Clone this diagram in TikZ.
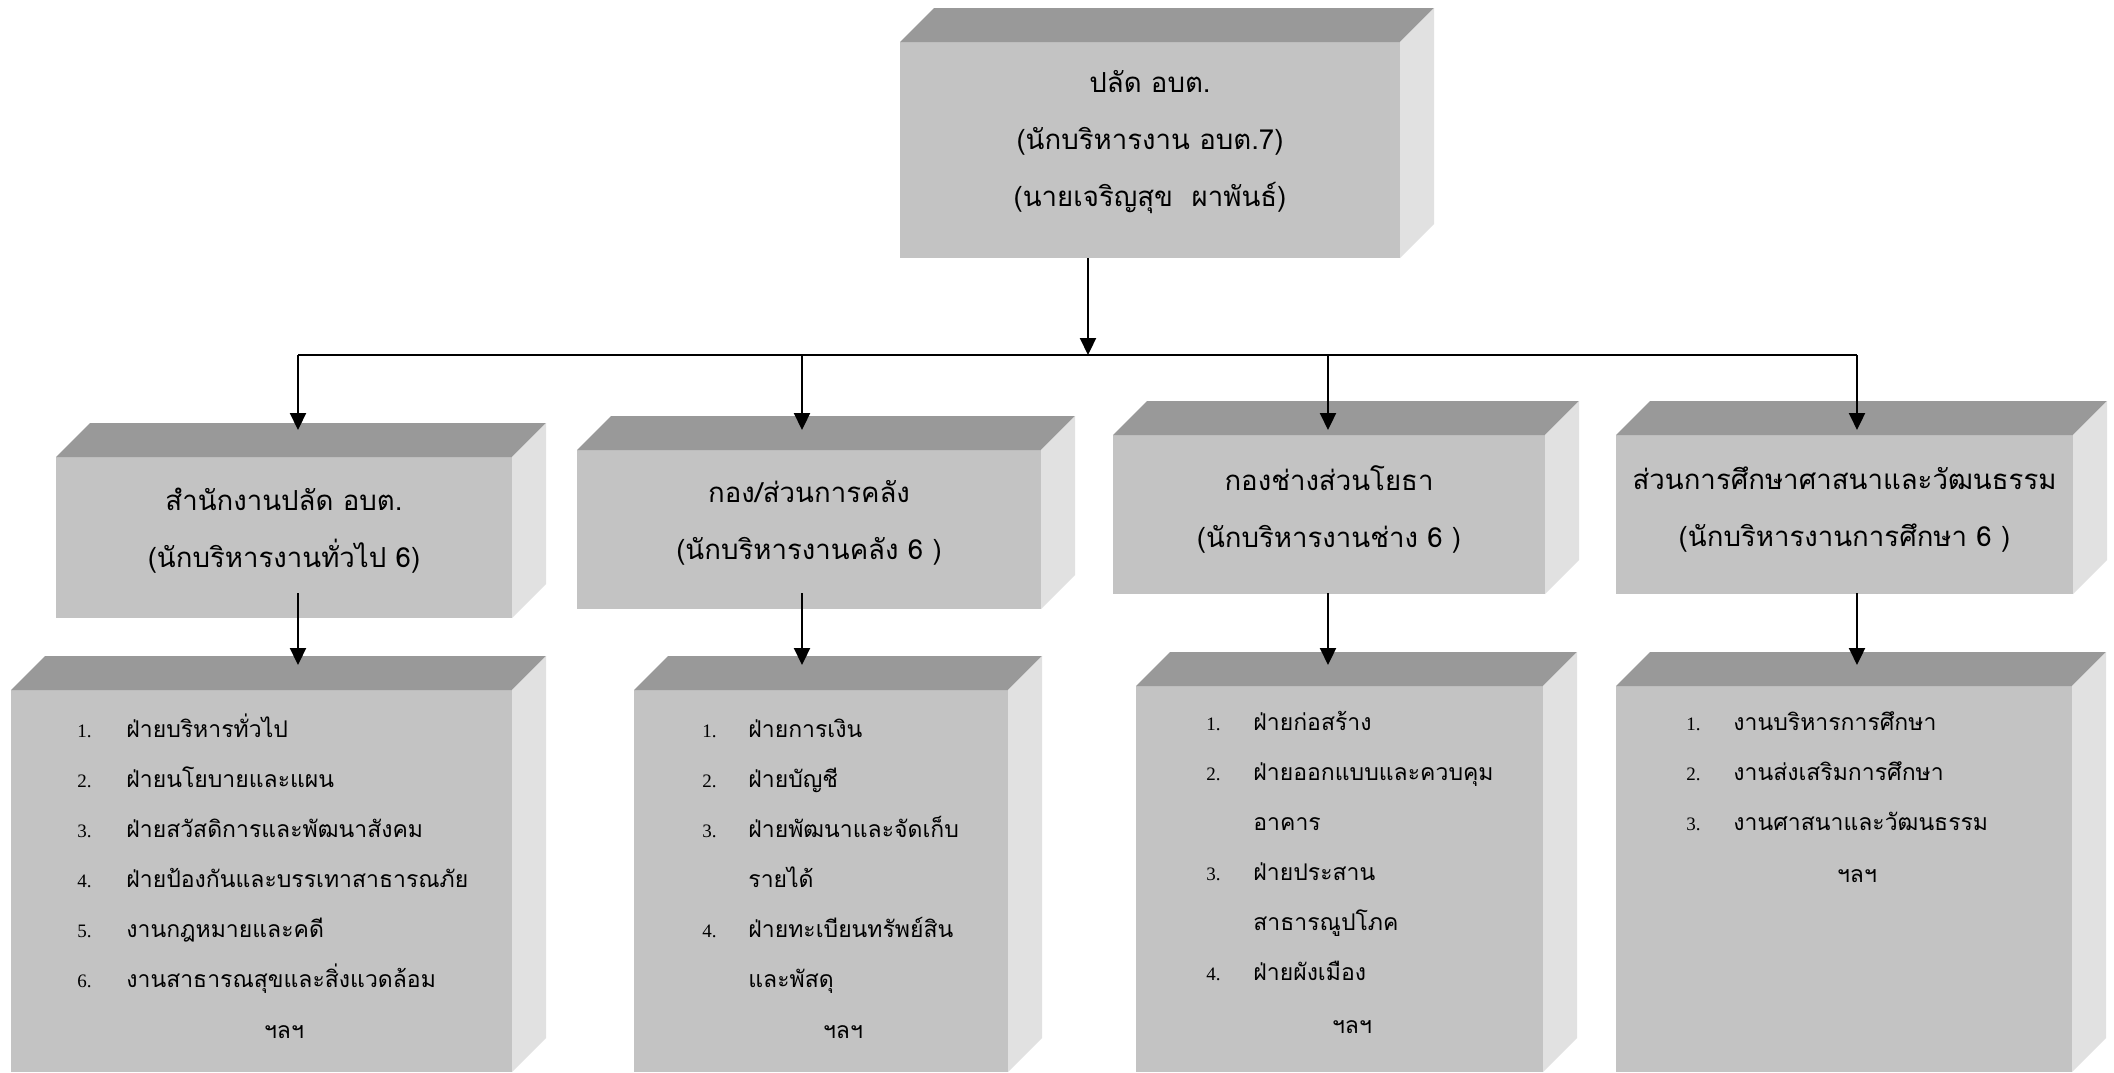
\documentclass[tikz,border=0pt]{standalone}
\usepackage{fontspec}
\usepackage{array}
\setmainfont{Liberation Serif}
\newfontfamily\thaifont[Script=Thai]{Loma}
\newcommand\headfont{\thaifont\fontsize{13.8}{28.5}\selectfont}
\newcommand\listfont{\thaifont\fontsize{11.5}{25}\selectfont}
\newcommand\numfont{\rmfamily\fontsize{9.5}{25}\selectfont}
\usetikzlibrary{arrows.meta}
\definecolor{frontgray}{HTML}{C3C3C3}
\definecolor{topgray}{HTML}{999999}
\definecolor{sidegray}{HTML}{E1E1E1}

\begin{document}
\begin{tikzpicture}[x=0.5pt,y=-0.5pt,
  face/.style={fill=frontgray,inner sep=0pt,outer sep=0pt},
  headtxt/.style={align=center,font=\headfont,inner sep=0pt},
  items/.style={font=\listfont,inner sep=0pt,anchor=base west},
  etc/.style={font=\listfont,inner sep=0pt,anchor=base},
  conn/.style={line width=1.1pt,-{Triangle[length=8.5pt,width=8pt]}},
  bus/.style={line width=0.8pt}]
  \path[fill=white,use as bounding box] (0,0) rectangle (2114,1072);

  % Front faces
  \node[face,minimum width=250pt,minimum height=108pt] (chief) at (1150,150) {};
  \node[face,minimum width=228pt,minimum height=80.5pt] (adm) at (284,537.5) {};
  \node[face,minimum width=232pt,minimum height=79.5pt] (fin) at (809,529.5) {};
  \node[face,minimum width=216pt,minimum height=79.5pt] (eng) at (1329,514.5) {};
  \node[face,minimum width=228.5pt,minimum height=79.5pt] (edu) at (1844.5,514.5) {};
  \node[face,minimum width=250.5pt,minimum height=191pt] (adm-sec) at (261.5,881) {};
  \node[face,minimum width=187pt,minimum height=191pt] (fin-sec) at (821,881) {};
  \node[face,minimum width=203.5pt,minimum height=193pt] (eng-sec) at (1339.5,879) {};
  \node[face,minimum width=228pt,minimum height=193pt] (edu-sec) at (1844,879) {};

  % Top and side faces
  \foreach \b in {chief,adm,fin,eng,edu,adm-sec,fin-sec,eng-sec,edu-sec} {
    \fill[topgray] (\b.north west) -- ++(34,-34)
      -- ([shift={(34,-34)}]\b.north east) -- (\b.north east) -- cycle;
    \fill[sidegray] (\b.north east) -- ++(34,-34)
      -- ([shift={(34,-34)}]\b.south east) -- (\b.south east) -- cycle;
  }

  % Headings
  \node[headtxt] (chief-txt) at ([yshift=4pt]chief.center)
    {ปลัด อบต.\\(นักบริหารงาน อบต.7)\\(นายเจริญสุข~~ผาพันธ์)};
  \node[headtxt] (adm-txt) at ([yshift=3.5pt]adm.center)
    {สำนักงานปลัด อบต.\\(นักบริหารงานทั่วไป 6)};
  \node[headtxt] (fin-txt) at ([yshift=3.5pt]fin.center)
    {กอง/ส่วนการคลัง\\(นักบริหารงานคลัง 6 )};
  \node[headtxt] (eng-txt) at ([yshift=2.5pt]eng.center)
    {กองช่างส่วนโยธา\\(นักบริหารงานช่าง 6 )};
  \node[headtxt] (edu-txt) at ([yshift=2.5pt]edu.center)
    {ส่วนการศึกษาศาสนาและวัฒนธรรม\\(นักบริหารงานการศึกษา 6 )};

  % Section lists
  \node[items] (adm-items) at (77,737) {\begin{tabular}[t]{@{}>{\numfont}p{24.5pt}@{}l@{}}
    1. & ฝ่ายบริหารทั่วไป\\
    2. & ฝ่ายนโยบายและแผน\\
    3. & ฝ่ายสวัสดิการและพัฒนาสังคม\\
    4. & ฝ่ายป้องกันและบรรเทาสาธารณภัย\\
    5. & งานกฎหมายและคดี\\
    6. & งานสาธารณสุขและสิ่งแวดล้อม
  \end{tabular}};
  \node[etc] (adm-etc) at (284,1038) {ฯลฯ};

  \node[items] (fin-items) at (702,737) {\begin{tabular}[t]{@{}>{\numfont}p{23pt}@{}l@{}}
    1. & ฝ่ายการเงิน\\
    2. & ฝ่ายบัญชี\\
    3. & ฝ่ายพัฒนาและจัดเก็บ\\
       & รายได้\\
    4. & ฝ่ายทะเบียนทรัพย์สิน\\
       & และพัสดุ
  \end{tabular}};
  \node[etc] (fin-etc) at (843,1038) {ฯลฯ};

  \node[items] (eng-items) at (1206,730) {\begin{tabular}[t]{@{}>{\numfont}p{23.5pt}@{}l@{}}
    1. & ฝ่ายก่อสร้าง\\
    2. & ฝ่ายออกแบบและควบคุม\\
       & อาคาร\\
    3. & ฝ่ายประสาน\\
       & สาธารณูปโภค\\
    4. & ฝ่ายผังเมือง
  \end{tabular}};
  \node[etc] (eng-etc) at (1352,1033) {ฯลฯ};

  \node[items] (edu-items) at (1686,730) {\begin{tabular}[t]{@{}>{\numfont}p{23.5pt}@{}l@{}}
    1. & งานบริหารการศึกษา\\
    2. & งานส่งเสริมการศึกษา\\
    3. & งานศาสนาและวัฒนธรรม
  \end{tabular}};
  \node[etc] (edu-etc) at (1857,882) {ฯลฯ};

  % Connectors
  \coordinate (bus-top) at (1088,355);
  \coordinate (bus-w) at (298,355);
  \coordinate (bus-e) at (1857,355);
  \draw[bus] (bus-w) -- (bus-e);
  \draw[conn] (chief.south -| bus-top) -- (bus-top);
  \foreach \n/\x in {adm/298,fin/802,eng/1328,edu/1857} {
    \coordinate (\n-in) at (\x,430);
    \coordinate (\n-out) at (\x,593);
    \coordinate (\n-sec-in) at (\x,665);
    \draw[conn] (\n-in |- bus-w) -- (\n-in);
    \draw[conn] (\n-out) -- (\n-sec-in);
  }
\end{tikzpicture}
\end{document}
